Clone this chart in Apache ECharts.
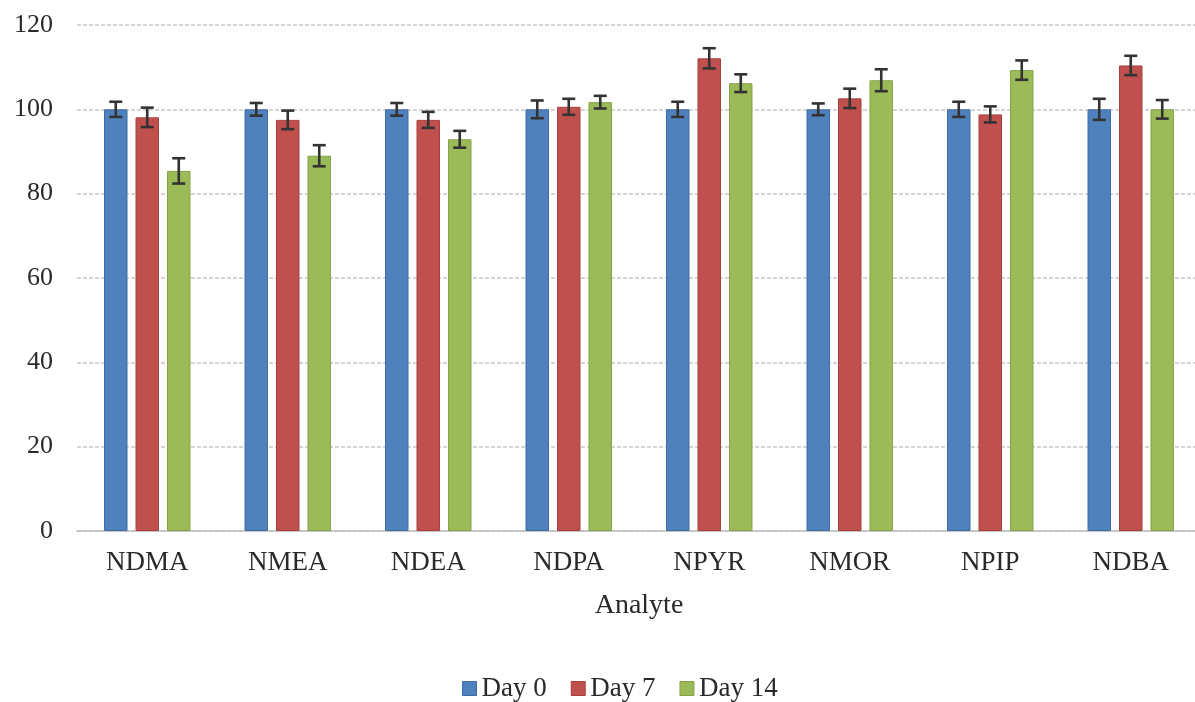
<!DOCTYPE html>
<html>
<head>
<meta charset="utf-8">
<script src="https://cdn.jsdelivr.net/npm/echarts@6/dist/echarts.min.js"></script>
<style>html,body{margin:0;padding:0;background:#fff;}#c{width:1195px;height:702px;}</style>
</head>
<body>
<div id="c"></div>
<script>
var categories = ['NDMA','NMEA','NDEA','NDPA','NPYR','NMOR','NPIP','NDBA'];
var seriesNames = ['Day 0','Day 7','Day 14'];
var day0 = [100, 100, 100, 100, 100, 100, 100, 100];
var day7 = [98.1, 97.5, 97.5, 100.6, 112.1, 102.6, 98.8, 110.4];
var day14 = [85.4, 89.0, 92.9, 101.7, 106.2, 106.9, 109.3, 100];
var err0 = [1.8, 1.5, 1.5, 2.1, 1.8, 1.4, 1.8, 2.5];
var err7 = [2.3, 2.2, 1.9, 1.9, 2.4, 2.3, 1.9, 2.3];
var err14 = [3.0, 2.5, 2.0, 1.5, 2.1, 2.6, 2.3, 2.2];
var yTicks = [0, 20, 40, 60, 80, 100, 120];

var colors = ['#4F81BD','#C0504D','#9BBB59'];
var borders = ['#3D6CA6','#A9403D','#86A446'];
var BAR_W = 23.5, BAR_GAP = 8;
var values = [day0, day7, day14];
var errs = [err0, err7, err14];

function errSeries(idx) {
  var data = categories.map(function (c, i) { return [i, values[idx][i], errs[idx][i]]; });
  return {
    type: 'custom',
    name: seriesNames[idx] + ' err',
    z: 10,
    silent: true,
    renderItem: function (params, api) {
      var x = api.value(0), v = api.value(1), e = api.value(2);
      var hi = api.coord([x, v + e]);
      var lo = api.coord([x, v - e]);
      var off = (idx - 1) * (BAR_W + BAR_GAP);
      var cx = hi[0] + off;
      var hw = 6.5;
      var st = { stroke: '#333', lineWidth: 2.6 };
      return {
        type: 'group',
        children: [
          { type: 'line', shape: { x1: cx, y1: hi[1], x2: cx, y2: lo[1] }, style: st },
          { type: 'line', shape: { x1: cx - hw, y1: hi[1], x2: cx + hw, y2: hi[1] }, style: st },
          { type: 'line', shape: { x1: cx - hw, y1: lo[1], x2: cx + hw, y2: lo[1] }, style: st }
        ]
      };
    },
    data: data
  };
}

var barSeries = seriesNames.map(function (n, idx) {
  return {
    name: n,
    type: 'bar',
    barWidth: BAR_W,
    barGap: (BAR_GAP / BAR_W * 100).toFixed(1) + '%',
    itemStyle: { color: colors[idx], borderColor: borders[idx], borderWidth: 1 },
    data: values[idx]
  };
});

var chart = echarts.init(document.getElementById('c'));
chart.setOption({
  animation: false,
  textStyle: { fontFamily: 'Liberation Serif' },
  grid: { left: 77, width: 1124, top: 25, height: 506, outerBoundsMode: 'none', containLabel: false },
  legend: {
    data: seriesNames.map(function (n, i) { return { name: n, itemStyle: { color: colors[i], borderColor: borders[i], borderWidth: 1 } }; }),
    top: 670,
    left: 457,
    itemWidth: 14,
    itemHeight: 14,
    itemGap: 24,
    icon: 'rect',
    textStyle: { fontFamily: 'Liberation Serif', fontSize: 27, color: '#2a2a2a' }
  },
  xAxis: {
    type: 'category',
    data: categories,
    name: 'Analyte',
    nameLocation: 'middle',
    nameGap: 61,
    nameTextStyle: { fontFamily: 'Liberation Serif', fontSize: 28, color: '#2a2a2a' },
    axisLine: { show: true, lineStyle: { color: '#bfbfbf', width: 1.5 } },
    axisTick: { show: false },
    axisLabel: { fontFamily: 'Liberation Serif', fontSize: 27, color: '#2a2a2a', margin: 18 }
  },
  yAxis: {
    type: 'value',
    min: yTicks[0],
    max: yTicks[yTicks.length - 1],
    interval: yTicks[1] - yTicks[0],
    axisLine: { show: false },
    axisTick: { show: false },
    axisLabel: { fontFamily: 'Liberation Serif', fontSize: 26, color: '#2a2a2a', margin: 24 },
    splitLine: { lineStyle: { color: '#c8c8c8', type: [4, 2], width: 1.5 } }
  },
  series: barSeries.concat([errSeries(0), errSeries(1), errSeries(2)])
});
</script>
</body>
</html>
